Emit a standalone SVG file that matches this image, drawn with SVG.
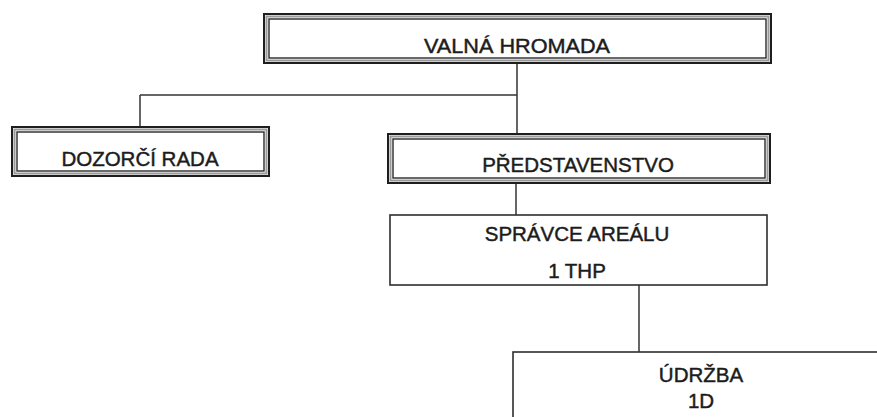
<svg xmlns="http://www.w3.org/2000/svg" width="877" height="417" viewBox="0 0 877 417">
<style>
.o{fill:#fff;stroke:#1e1e1e;stroke-width:2}
.m{fill:none;stroke:#9a9a9a;stroke-width:2}
.i{fill:none;stroke:#2a2a2a;stroke-width:1.4}
.s{fill:#fff;stroke:#2e2e2e;stroke-width:1.6}
.c{fill:none;stroke:#333;stroke-width:1.5}
text{font-family:"Liberation Sans",Arial,sans-serif;font-size:20.5px;fill:#1c1c1c;stroke:#1c1c1c;stroke-width:0.45;text-anchor:middle}
</style>
<rect width="877" height="417" fill="#fff"/>
<g id="connectors">
<path class="c" d="M517,63 V134"/>
<path class="c" d="M140,95 H517"/>
<path class="c" d="M140,95 V127"/>
<path class="c" d="M516,184 V215"/>
<path class="c" d="M639,285 V352"/>
</g>
<g id="valna-hromada">
<rect class="o" x="264" y="14" width="507" height="49"/>
<rect class="m" x="266.5" y="16.5" width="502" height="44"/>
<rect class="i" x="269" y="19" width="497" height="39"/>
<text x="517" y="53" textLength="186" lengthAdjust="spacingAndGlyphs">VALNÁ HROMADA</text>
</g>
<g id="dozorci-rada">
<rect class="o" x="12" y="127" width="257" height="49"/>
<rect class="m" x="14.5" y="129.5" width="252" height="44"/>
<rect class="i" x="17" y="132" width="247" height="39"/>
<text x="140" y="166">DOZORČÍ RADA</text>
</g>
<g id="predstavenstvo">
<rect class="o" x="388" y="134" width="382" height="49"/>
<rect class="m" x="390.5" y="136.5" width="377" height="44"/>
<rect class="i" x="393" y="139" width="372" height="39"/>
<text x="578" y="172">PŘEDSTAVENSTVO</text>
</g>
<g id="spravce-arealu">
<rect class="s" x="390" y="215" width="377" height="70"/>
<text x="577" y="241">SPRÁVCE AREÁLU</text>
<text x="577" y="278">1 THP</text>
</g>
<g id="udrzba">
<rect class="s" x="513" y="352" width="380" height="100"/>
<text x="701" y="382">ÚDRŽBA</text>
<text x="701" y="408">1D</text>
</g>
</svg>
